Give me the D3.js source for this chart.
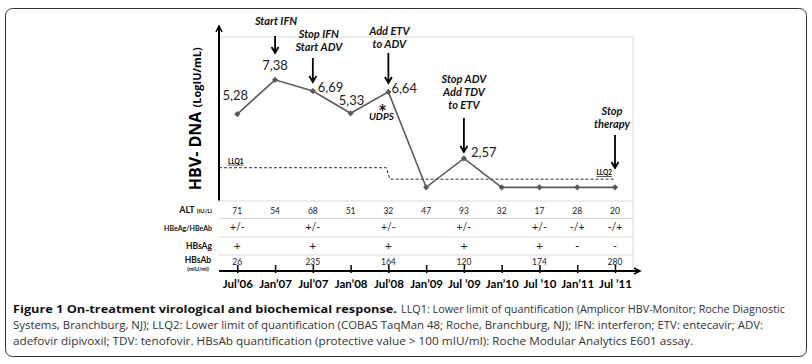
<!DOCTYPE html>
<html>
<head>
<meta charset="utf-8">
<script src="https://cdn.jsdelivr.net/npm/d3@7"></script>
<style>
  html, body { margin: 0; padding: 0; background: #fff; }
  svg { display: block; }
</style>
</head>
<body>
<div id="chart"></div>
<script>
// data
const dates = ["Jul’06", "Jan’07", "Jul’07", "Jan’08", "Jul’08", "Jan’09", "Jul ’09", "Jan’10", "Jul ’10", "Jan’11", "Jul ’11"];
const hbvDna = [5.28, 7.38, 6.69, 5.33, 6.64, 0.8, 2.57, 0.8, 0.8, 0.8, 0.8];
const dnaLabels = ["5,28", "7,38", "6,69", "5,33", "6,64", "", "2,57", "", "", "", ""];
const llq1 = 2.0;   // Amplicor, until Jul'08
const llq2 = 1.3;   // COBAS TaqMan, after
const llqSwitch = 4;
const alt = ["71", "54", "68", "51", "32", "47", "93", "32", "17", "28", "20"];
const hbeag = ["+/-", "", "+/-", "", "+/-", "", "+/-", "", "+/-", "-/+", "-/+"];
const hbsag = ["+", "", "+", "", "+", "", "+", "", "+", "-", "-"];
const hbsab = ["26", "", "235", "", "164", "", "120", "", "174", "", "280"];
const events = [
  { at: 1, lines: ["Start IFN"] },
  { at: 2, lines: ["Stop IFN", "Start ADV"] },
  { at: 4, lines: ["Add ETV", "to ADV"] },
  { at: 6, lines: ["Stop ADV", "Add TDV", "to ETV"] },
  { at: 10, lines: ["Stop", "therapy"] }
];

const W = 812, H = 364;
const plotLeft = 219, plotRight = 633;
const font = "Lato, 'Open Sans', sans-serif";

const svg = d3.select("#chart").append("svg")
  .attr("width", W).attr("height", H);

// outer frame
svg.append("rect")
  .attr("x", 5.5).attr("y", 8.5)
  .attr("width", 801).attr("height", 348)
  .attr("rx", 7)
  .attr("fill", "none")
  .attr("stroke", "#333")
  .attr("stroke-width", 1);

const x = d3.scalePoint().domain(dates).range([237.3, 615]);
const y = d3.scaleLinear().domain([0, 10]).range([200.4, 37]);

// table rows
const rowLines = [201, 218.5, 237, 255];
const axisY = 271;

// light plot frame
svg.append("path")
  .attr("d", `M${plotLeft},${y(10)}H${plotRight}V${axisY}`)
  .attr("fill", "none")
  .attr("stroke", "#d9d9d9")
  .attr("stroke-width", 1);

svg.selectAll(".rowline")
  .data(rowLines)
  .enter().append("line")
  .attr("x1", plotLeft).attr("x2", plotRight)
  .attr("y1", d => d).attr("y2", d => d)
  .attr("stroke", "#d9d9d9");

// LLQ dashed line
const xs = x(dates[llqSwitch]);
svg.append("path")
  .attr("d", `M${plotLeft},${y(llq1)}H${xs - 2}L${xs + 1.5},${y(llq2)}H${x(dates[dates.length - 1])}`)
  .attr("fill", "none")
  .attr("stroke", "#333")
  .attr("stroke-width", 1)
  .attr("stroke-dasharray", "3,2");

svg.append("text")
  .attr("x", plotLeft + 9).attr("y", y(llq1) - 4)
  .attr("font-family", font).attr("font-size", 6.5).attr("font-weight", "bold")
  .attr("text-decoration", "underline")
  .text("LLQ1");

svg.append("text")
  .attr("x", x(dates[dates.length - 1]) - 3).attr("y", y(llq2) - 4)
  .attr("text-anchor", "end")
  .attr("font-family", font).attr("font-size", 6.5).attr("font-weight", "bold")
  .attr("text-decoration", "underline")
  .text("LLQ2");

// HBV DNA line
const line = d3.line()
  .x((d, i) => x(dates[i]))
  .y(d => y(d));

svg.append("path")
  .datum(hbvDna)
  .attr("fill", "none")
  .attr("stroke", "#5a5a5a")
  .attr("stroke-width", 1.6)
  .attr("d", line);

svg.selectAll(".pt")
  .data(hbvDna)
  .enter().append("path")
  .attr("transform", (d, i) => `translate(${x(dates[i])},${y(d)})`)
  .attr("d", d3.symbol(d3.symbolDiamond2, 24))
  .attr("fill", "#5a5a5a");

// value labels
const labelPos = [
  { dx: -2, dy: -14, anchor: "middle" },
  { dx: 0, dy: -10, anchor: "middle" },
  { dx: 5, dy: 1, anchor: "start" },
  { dx: 1, dy: -8, anchor: "middle" },
  { dx: 3, dy: 1, anchor: "start" },
  null,
  { dx: 7, dy: -1, anchor: "start" }
];
const labelled = hbvDna
  .map((v, i) => ({ v, i, label: dnaLabels[i] }))
  .filter(d => d.label !== "");
svg.selectAll(".vlabel")
  .data(labelled)
  .enter().append("text")
  .attr("x", d => x(dates[d.i]) + labelPos[d.i].dx)
  .attr("y", d => y(d.v) + labelPos[d.i].dy)
  .attr("text-anchor", d => labelPos[d.i].anchor)
  .attr("font-family", font).attr("font-size", 13)
  .attr("fill", "#222")
  .text(d => d.label);

// UDPS note (asterisk and word in one text block)
const ux = x(dates[llqSwitch]);
const uy = y(hbvDna[llqSwitch]);
const udps = svg.append("text")
  .attr("text-anchor", "middle")
  .attr("font-family", font).attr("font-weight", "bold")
  .attr("fill", "#111");
udps.append("tspan")
  .attr("x", ux - 6).attr("y", uy + 28)
  .attr("font-size", 20)
  .text("*");
udps.append("tspan")
  .attr("x", ux - 7).attr("y", uy + 28)
  .attr("font-size", 10).attr("font-style", "italic")
  .text("UDPS");

// event annotations with arrows
const eventLayout = [
  { tx: 1, top: 25, a0: 36, a1: 53 },
  { tx: 6, top: 38, a0: 58, a1: 82 },
  { tx: 1, top: 35, a0: 53, a1: 83 },
  { tx: 0, top: 83, a0: 118, a1: 152 },
  { tx: -3, top: 115, a0: 135, a1: 168 }
];
events.forEach((ev, k) => {
  const L = eventLayout[k];
  const cx = x(dates[ev.at]);
  const t = svg.append("text")
    .attr("text-anchor", "middle")
    .attr("font-family", font).attr("font-size", 11)
    .attr("font-weight", "bold").attr("font-style", "italic")
    .attr("fill", "#111");
  ev.lines.forEach((s, j) => {
    t.append("tspan")
      .attr("x", cx + L.tx)
      .attr("y", L.top + j * 13)
      .text(s);
  });
  svg.append("path")
    .attr("d", `M${cx},${L.a0}V${L.a1}M${cx - 3.5},${L.a1 - 6}L${cx},${L.a1}L${cx + 3.5},${L.a1 - 6}`)
    .attr("fill", "none")
    .attr("stroke", "#000")
    .attr("stroke-width", 1.8);
});

// y axis with arrow
svg.append("path")
  .attr("d", `M${plotLeft},${y(0)}V${y(10) - 10}`)
  .attr("stroke", "#000").attr("stroke-width", 2);
svg.append("path")
  .attr("d", `M${plotLeft - 3},${y(10) - 5}L${plotLeft},${y(10) - 11}L${plotLeft + 3},${y(10) - 5}`)
  .attr("fill", "none").attr("stroke", "#000").attr("stroke-width", 1.5);

const yl = svg.append("text")
  .attr("transform", `translate(201,${(y(0) + y(10)) / 2}) rotate(-90)`)
  .attr("text-anchor", "middle")
  .attr("font-family", "'Open Sans', sans-serif")
  .attr("font-weight", "bold")
  .attr("fill", "#000");
yl.append("tspan").attr("font-size", 16).text("HBV- DNA ");
yl.append("tspan").attr("font-size", 11).text("(LogIU/mL)");

// table values
const rows = [
  { vals: alt, size: 8.5 },
  { vals: hbeag, size: 10.5 },
  { vals: hbsag, size: 12 },
  { vals: hbsab, size: 8.5 }
];
const rowBase = [214, 231, 250, 265];
rows.forEach((r, k) => {
  svg.selectAll(null)
    .data(r.vals)
    .enter().append("text")
    .attr("x", (d, i) => x(dates[i]))
    .attr("y", rowBase[k])
    .attr("text-anchor", "middle")
    .attr("font-family", font).attr("font-size", r.size)
    .attr("fill", "#222")
    .text(d => d);
});

// row labels
const rl = (txt, yy, size) => svg.append("text")
  .attr("x", 212).attr("y", yy)
  .attr("text-anchor", "end")
  .attr("font-family", font).attr("font-weight", "bold")
  .attr("font-size", size).attr("fill", "#111")
  .text(txt);
const altLab = rl("ALT ", 213, 9);
altLab.append("tspan").attr("font-size", 6).text("(IU/L)");
rl("HBeAg/HBeAb", 231, 7);
rl("HBsAg", 249, 8.5);
svg.append("text")
  .attr("x", 198).attr("y", 263)
  .attr("text-anchor", "middle")
  .attr("font-family", font).attr("font-weight", "bold")
  .attr("font-size", 8.5).attr("fill", "#111")
  .text("HBsAb");
svg.append("text")
  .attr("x", 198).attr("y", 271)
  .attr("text-anchor", "middle")
  .attr("font-family", font).attr("font-weight", "bold")
  .attr("font-size", 5.5).attr("fill", "#111")
  .text("(mIU/ml)");

// x axis
const xAxis = svg.append("g")
  .attr("transform", `translate(0,${axisY})`)
  .call(d3.axisBottom(x).tickSizeInner(-6).tickSizeOuter(0).tickPadding(9));
xAxis.select(".domain").remove();
xAxis.selectAll(".tick line").attr("stroke", "#000").attr("stroke-width", 1.5).attr("y2", -6).attr("y1", 2);
xAxis.selectAll(".tick text")
  .attr("font-family", font).attr("font-size", 11.5).attr("font-weight", "bold")
  .attr("fill", "#000");

svg.append("path")
  .attr("d", `M${plotLeft},${axisY}H${plotRight + 6}`)
  .attr("stroke", "#000").attr("stroke-width", 2);
svg.append("path")
  .attr("d", `M${plotRight + 1},${axisY - 3}L${plotRight + 7},${axisY}L${plotRight + 1},${axisY + 3}`)
  .attr("fill", "none").attr("stroke", "#000").attr("stroke-width", 1.5);

// caption
const capFont = "'Open Sans', sans-serif";
svg.append("text")
  .attr("x", 13).attr("y", 313)
  .attr("font-family", capFont).attr("font-size", 11).attr("font-weight", "bold")
  .attr("fill", "#111")
  .attr("textLength", 384).attr("lengthAdjust", "spacingAndGlyphs")
  .text("Figure 1 On-treatment virological and biochemical response.");
svg.append("text")
  .attr("x", 401).attr("y", 313)
  .attr("font-family", capFont).attr("font-size", 11)
  .attr("fill", "#333")
  .attr("textLength", 384).attr("lengthAdjust", "spacingAndGlyphs")
  .text("LLQ1: Lower limit of quantification (Amplicor HBV-Monitor; Roche Diagnostic");

svg.append("text")
  .attr("x", 13).attr("y", 329)
  .attr("font-family", capFont).attr("font-size", 11)
  .attr("fill", "#333")
  .attr("textLength", 750).attr("lengthAdjust", "spacingAndGlyphs")
  .text("Systems, Branchburg, NJ); LLQ2: Lower limit of quantification (COBAS TaqMan 48; Roche, Branchburg, NJ); IFN: interferon; ETV: entecavir; ADV:");

svg.append("text")
  .attr("x", 13).attr("y", 345)
  .attr("font-family", capFont).attr("font-size", 11)
  .attr("fill", "#333")
  .attr("textLength", 680).attr("lengthAdjust", "spacingAndGlyphs")
  .text("adefovir dipivoxil; TDV: tenofovir. HBsAb quantification (protective value > 100 mIU/ml): Roche Modular Analytics E601 assay.");
</script>
</body>
</html>
